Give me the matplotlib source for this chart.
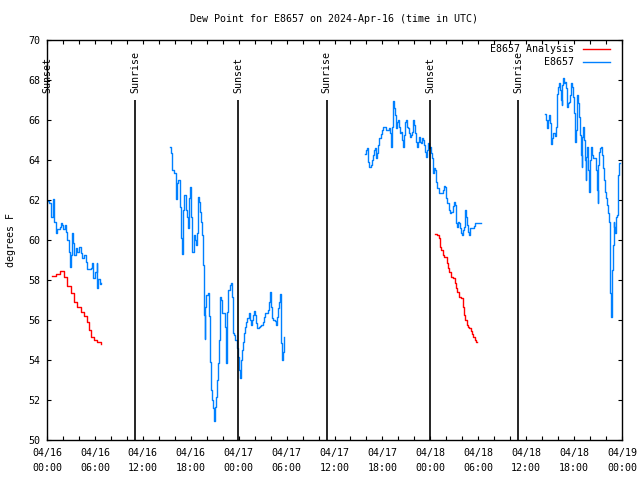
import matplotlib
matplotlib.use('Agg')
import matplotlib.pyplot as plt
import numpy as np
from matplotlib.lines import Line2D
from matplotlib.ticker import MultipleLocator, FixedLocator

# hours since 04/16 00:00 UTC, dew point in degrees F
obs_t1 = [0.04, 0.29, 0.46, 0.54, 0.75, 0.88, 1.17, 1.29, 1.59, 1.71, 1.92, 2.05, 2.21, 2.38,
          2.55, 2.75, 2.84, 2.96, 3.13, 3.30, 3.42, 3.59, 3.80, 4.01, 4.22, 4.42, 4.63, 4.84,
          5.05, 5.47, 5.68, 5.80, 5.97, 6.22, 6.30, 6.43, 6.64, 6.80]
obs_v1 = [61.97, 61.83, 61.5, 61.17, 62.03, 60.92, 60.37, 60.53, 60.67, 60.83, 60.75, 60.53, 60.75, 60.42,
          60.0, 59.42, 58.67, 59.25, 60.37, 59.83, 59.25, 59.58, 59.42, 59.63, 59.33, 59.08, 59.25, 58.92,
          58.55, 58.58, 58.83, 58.08, 58.42, 58.87, 57.58, 58.03, 57.8, 57.83]

obs_t2 = [15.44, 15.53, 15.69, 15.94, 16.11, 16.20, 16.32, 16.45, 16.61, 16.70, 16.82, 16.95, 17.07,
          17.20, 17.37, 17.53, 17.70, 17.82, 17.95, 18.07, 18.20, 18.37, 18.54, 18.66, 18.79, 18.91,
          19.04, 19.16, 19.29, 19.41, 19.54, 19.66, 19.75, 19.83, 19.96, 20.12, 20.25, 20.37, 20.50,
          20.62, 20.75, 20.91, 21.04, 21.16, 21.29, 21.41, 21.54, 21.66, 21.79, 21.95, 22.12, 22.24,
          22.37, 22.45, 22.54, 22.70, 22.87, 22.99, 23.12, 23.25, 23.41, 23.58, 23.75, 23.87,
          24.08, 24.17, 24.29, 24.42, 24.50, 24.63, 24.79, 24.96, 25.09, 25.25, 25.38, 25.50, 25.63,
          25.75, 25.88, 26.00, 26.17, 26.33, 26.50, 26.67, 26.84, 27.00, 27.17, 27.34, 27.50, 27.67,
          27.84, 27.96, 28.05, 28.17, 28.34, 28.50, 28.67, 28.80, 28.92, 29.05, 29.17, 29.26, 29.34,
          29.47, 29.59, 29.67]
obs_v2 = [64.63, 64.33, 63.5, 63.33, 62.92, 62.03, 62.83, 63.0, 62.58, 61.67, 60.08, 59.3, 61.5,
          62.25, 61.5, 61.17, 60.58, 62.08, 62.63, 61.17, 59.42, 60.25, 60.0, 59.75, 60.33, 62.17,
          61.92, 61.42, 60.92, 60.25, 58.75, 56.25, 55.03, 56.67, 57.25, 57.37, 56.2, 53.92, 52.5,
          52.0, 51.58, 50.95, 51.67, 52.17, 53.0, 53.83, 55.0, 57.17, 57.0, 56.33, 56.33, 55.67,
          54.5, 53.83, 56.42, 57.5, 57.75, 57.83, 57.17, 55.33, 55.25, 55.0, 54.58, 54.17,
          53.5, 53.08, 54.0, 54.5, 54.92, 55.33, 55.67, 55.92, 56.08, 56.33, 56.0, 55.75, 56.0,
          56.25, 56.47, 56.25, 55.83, 55.58, 55.67, 55.7, 55.75, 55.92, 56.17, 56.37, 56.33, 56.5,
          56.92, 57.42, 56.67, 56.08, 56.0, 55.97, 55.75, 56.17, 56.58, 56.92, 57.3, 56.67, 54.83,
          54.0, 54.42, 55.17]

obs_t3 = [39.86, 39.99, 40.11, 40.19, 40.32, 40.44, 40.61, 40.74, 40.86, 40.99, 41.11, 41.24, 41.36,
          41.49, 41.61, 41.78, 41.95, 42.11, 42.28, 42.45, 42.61, 42.78, 42.91, 43.03, 43.16, 43.28,
          43.37, 43.45, 43.57, 43.70, 43.78, 43.91, 44.03, 44.16, 44.28, 44.41, 44.53, 44.66, 44.78,
          44.91, 45.03, 45.16, 45.28, 45.41, 45.53, 45.66, 45.78, 45.91, 46.03, 46.16, 46.28, 46.41,
          46.53, 46.66, 46.78, 46.91, 47.03, 47.16, 47.28, 47.41, 47.53, 47.66, 47.78, 47.91, 48.03,
          48.16, 48.29, 48.38, 48.50, 48.63, 48.75, 48.88, 49.04, 49.21, 49.38, 49.55, 49.71, 49.88,
          50.00, 50.13, 50.30, 50.46, 50.63, 50.80, 50.96, 51.09, 51.22, 51.34, 51.47, 51.59, 51.72,
          51.84, 51.97, 52.10, 52.22, 52.35, 52.47, 52.60, 52.72, 52.85, 52.97, 53.14, 53.31, 53.48,
          53.64, 53.98, 54.39]
obs_v3 = [64.28, 64.5, 64.62, 63.92, 63.67, 63.67, 63.75, 64.0, 64.25, 64.5, 64.62, 64.08, 64.33,
          64.75, 65.08, 65.28, 65.5, 65.63, 65.63, 65.5, 65.5, 65.62, 65.33, 64.67, 65.67, 66.33,
          66.95, 66.58, 66.25, 65.58, 65.92, 66.0, 65.67, 65.33, 65.42, 65.0, 64.67, 65.25, 65.92,
          66.0, 65.67, 65.58, 65.33, 65.17, 65.25, 65.42, 66.0, 65.75, 65.33, 64.92, 64.67, 64.92,
          65.17, 64.92, 64.83, 65.08, 65.0, 64.75, 64.42, 64.17, 64.5, 64.83, 64.58, 64.67, 64.33,
          64.08, 63.58, 63.33, 63.58, 63.5, 62.92, 62.58, 62.37, 62.33, 62.37, 62.5, 62.7, 62.67,
          62.08, 61.83, 61.5, 61.33, 61.42, 61.7, 61.92, 61.75, 60.83, 60.67, 60.92, 60.83, 60.58,
          60.33, 60.25, 60.5, 60.67, 61.5, 61.17, 60.75, 60.42, 60.25, 60.58, 60.58, 60.58, 60.7,
          60.83, 60.87, 60.87]

obs_t4 = [62.40, 62.49, 62.61, 62.74, 62.86, 62.99, 63.07, 63.15, 63.28, 63.40, 63.53, 63.65, 63.74,
          63.82, 63.90, 64.03, 64.15, 64.24, 64.36, 64.45, 64.53, 64.66, 64.74, 64.82, 64.95, 65.07,
          65.16, 65.24, 65.37, 65.49, 65.57, 65.66, 65.78, 65.91, 65.99, 66.07, 66.16, 66.24, 66.32,
          66.41, 66.49, 66.62, 66.74, 66.87, 66.95, 67.04, 67.16, 67.29, 67.37, 67.45, 67.54, 67.66,
          67.75, 67.83, 67.91, 68.00, 68.08, 68.16, 68.25, 68.37, 68.50, 68.62, 68.75, 68.87, 68.96,
          69.04, 69.17, 69.29, 69.42, 69.50, 69.63, 69.75, 69.88, 70.00, 70.13, 70.25, 70.38, 70.46,
          70.54, 70.63, 70.71, 70.79, 70.87, 70.96, 71.04, 71.13, 71.21, 71.29, 71.38, 71.46, 71.54,
          71.63, 71.71]
obs_v4 = [66.3, 66.0, 65.58, 66.0, 66.25, 65.83, 65.17, 64.8, 65.08, 65.37, 65.33, 65.2, 65.67,
          66.63, 67.3, 67.67, 67.87, 67.5, 67.0, 66.75, 67.75, 68.08, 67.83, 67.92, 67.58, 67.17,
          66.63, 66.83, 66.92, 67.25, 67.67, 67.83, 67.67, 67.17, 66.33, 65.58, 64.92, 65.5, 66.67,
          67.25, 66.83, 66.17, 65.25, 64.25, 63.67, 65.17, 65.67, 65.0, 64.0, 63.0, 64.17, 64.67,
          63.5, 63.0, 62.42, 64.0, 64.17, 64.63, 64.25, 64.08, 64.08, 64.08, 63.5, 62.5, 61.83,
          63.75, 64.42, 64.58, 64.63, 64.25, 63.58, 63.0, 62.42, 62.08, 61.75, 61.33, 60.92, 59.58,
          57.33, 56.17, 57.33, 58.5, 59.75, 60.92, 60.67, 60.33, 60.58, 61.17, 61.25, 62.17, 63.25,
          63.83, 63.83]

ana_t1 = [0.67, 1.09, 1.63, 2.13, 2.55, 2.96, 3.38, 3.80, 4.22, 4.63, 4.97, 5.26, 5.55, 5.89, 6.30, 6.72]
ana_v1 = [58.2, 58.3, 58.47, 58.17, 57.7, 57.33, 56.92, 56.67, 56.42, 56.2, 55.92, 55.5, 55.17, 55.0, 54.92, 54.8]

ana_t2 = [48.63, 48.88, 49.04, 49.21, 49.38, 49.55, 49.71, 49.88, 50.05, 50.21, 50.38, 50.55, 50.71,
          50.88, 51.05, 51.22, 51.38, 51.55, 51.72, 51.88, 52.05, 52.22, 52.39, 52.56, 52.72, 52.89,
          53.06, 53.23, 53.39, 53.56, 53.73, 53.90]
ana_v2 = [60.3, 60.27, 60.08, 59.67, 59.5, 59.25, 59.17, 59.13, 58.83, 58.58, 58.42, 58.17, 58.13,
          58.08, 57.83, 57.58, 57.42, 57.17, 57.13, 57.08, 56.67, 56.25, 56.0, 55.75, 55.67, 55.58,
          55.47, 55.3, 55.13, 55.0, 54.92, 54.92]

sun_times = [0.0, 11.05, 23.97, 35.0, 47.97, 59.0]
sun_names = ['Sunset', 'Sunrise', 'Sunset', 'Sunrise', 'Sunset', 'Sunrise']

tick_hours = list(range(0, 73, 6))
tick_labels = ['04/16\n00:00', '04/16\n06:00', '04/16\n12:00', '04/16\n18:00',
               '04/17\n00:00', '04/17\n06:00', '04/17\n12:00', '04/17\n18:00',
               '04/18\n00:00', '04/18\n06:00', '04/18\n12:00', '04/18\n18:00',
               '04/19\n00:00']

mono = 'DejaVu Sans Mono'
fs = 7.2
red = '#ff0000'
blue = '#0080ff'

fig = plt.figure(figsize=(6.4, 4.8), dpi=100)
ax = fig.add_axes([47 / 640, 40 / 480, 575 / 640, 400 / 480])

for t, v in [(obs_t1, obs_v1), (obs_t2, obs_v2), (obs_t3, obs_v3), (obs_t4, obs_v4)]:
    ax.plot(t, v, color=blue, lw=1.0, drawstyle='steps-post')
for t, v in [(ana_t1, ana_v1), (ana_t2, ana_v2)]:
    ax.plot(t, v, color=red, lw=1.0, drawstyle='steps-post')

# sunrise / sunset markers
for st, name in zip(sun_times, sun_names):
    ax.vlines(st, 50, 67, color='black', lw=1.2)
    ax.text(st, 67.35, name, rotation=90, ha='center', va='bottom',
            fontsize=fs, family=mono)

ax.set_xlim(0, 72)
ax.set_ylim(50, 70)
ax.xaxis.set_major_locator(FixedLocator(tick_hours))
ax.set_xticklabels(tick_labels, family=mono, fontsize=fs, linespacing=1.6)
ax.xaxis.set_minor_locator(MultipleLocator(2))
ax.yaxis.set_major_locator(MultipleLocator(2))
for lab in ax.get_yticklabels():
    lab.set_family(mono)
    lab.set_fontsize(fs)
ax.tick_params(which='both', direction='in', top=True, right=True, length=3.2, width=0.8)
ax.tick_params(axis='y', pad=5)
ax.tick_params(axis='x', pad=6)
for sp in ax.spines.values():
    sp.set_linewidth(1.0)

ax.set_ylabel('degrees F', family=mono, fontsize=fs, labelpad=9)
ax.text(0.5, 1 + 21 / 400, 'Dew Point for E8657 on 2024-Apr-16 (time in UTC)',
        transform=ax.transAxes, ha='center', va='center', family=mono, fontsize=fs)

# legend
ax.text(0.9165, 0.9775, 'E8657 Analysis', transform=ax.transAxes, ha='right', va='center',
        family=mono, fontsize=fs)
ax.text(0.9165, 0.945, 'E8657', transform=ax.transAxes, ha='right', va='center',
        family=mono, fontsize=fs)
ax.add_line(Line2D([0.9322, 0.9791], [0.9775, 0.9775], transform=ax.transAxes, color=red, lw=1.0))
ax.add_line(Line2D([0.9322, 0.9791], [0.945, 0.945], transform=ax.transAxes, color=blue, lw=1.0))

fig.savefig('out.png', dpi=100)
